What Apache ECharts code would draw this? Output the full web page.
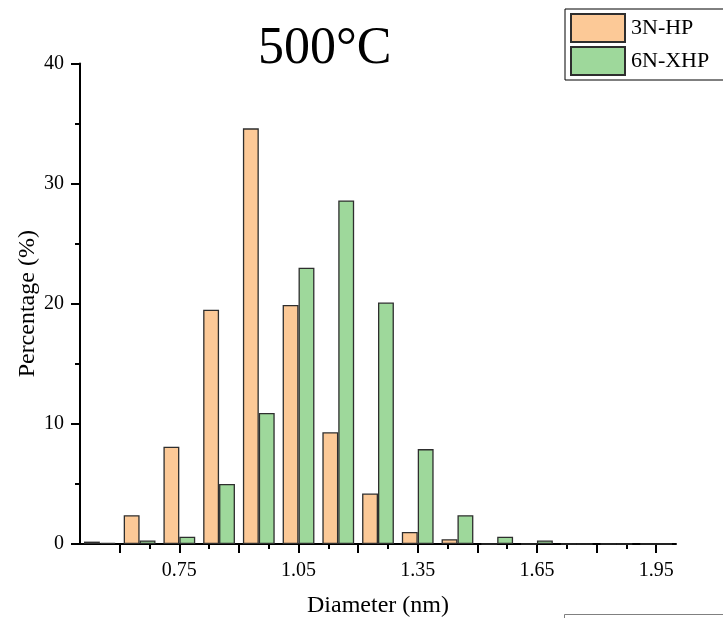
<!DOCTYPE html>
<html>
<head>
<meta charset="utf-8">
<script src="https://cdn.jsdelivr.net/npm/echarts@6/dist/echarts.min.js"></script>
<style>html,body{margin:0;padding:0;background:#fff;}#c{width:723px;height:618px;}</style>
</head>
<body>
<div id="c"></div>
<script>
var binCenters = [0.55, 0.65, 0.75, 0.85, 0.95, 1.05, 1.15, 1.25, 1.35, 1.45, 1.55, 1.65, 1.75, 1.85, 1.95];
var hp3N = [0.2, 2.4, 8.1, 19.5, 34.6, 19.9, 9.3, 4.2, 1.0, 0.4, 0, 0, 0, 0, 0];
var xhp6N = [0.1, 0.3, 0.6, 5.0, 10.9, 23.0, 28.6, 20.1, 7.9, 2.4, 0.6, 0.3, 0, 0, 0];
var majorTicks = [0.6, 0.75, 0.9, 1.05, 1.2, 1.35, 1.5, 1.65, 1.8, 1.95];
var minorTicks = [0.675, 0.825, 0.975, 1.125, 1.275, 1.425, 1.575, 1.725, 1.875];
var xLabels = [0.75, 1.05, 1.35, 1.65, 1.95];
var seriesNames = ['3N-HP', '6N-XHP'];

var FONT = 'Liberation Serif';
var chart = echarts.init(document.getElementById('c'), null, {renderer: 'canvas'});

function pairs(vals) {
  return binCenters.map(function (x, i) { return [x, vals[i]]; });
}

var option = {
  animation: false,
  backgroundColor: '#fff',
  grid: {left: 80, top: 63.5, width: 596, height: 480.5, containLabel: false, outerBoundsMode: 'none'},
  legend: {
    orient: 'vertical',
    left: 565,
    top: 9,
    padding: [4, 20, 4, 5],
    itemGap: 3,
    itemWidth: 54,
    itemHeight: 28,
    borderColor: '#000',
    borderWidth: 1,
    icon: 'rect',
    data: seriesNames,
    textStyle: {fontFamily: FONT, fontSize: 22, color: '#000', padding: [0, 0, 0, 1]}
  },
  xAxis: [{
    type: 'value',
    min: 0.5,
    max: 2.0,
    position: 'bottom',
    name: 'Diameter (nm)',
    nameLocation: 'middle',
    nameGap: 50,
    nameMoveOverlap: false,
    nameTextStyle: {fontFamily: FONT, fontSize: 24, color: '#000'},
    axisLine: {show: true, onZero: false, lineStyle: {color: '#000', width: 2}},
    axisTick: {show: true, inside: false, length: 9, customValues: majorTicks, lineStyle: {color: '#000', width: 2}},
    axisLabel: {show: true, customValues: xLabels, margin: 17, fontFamily: FONT, fontSize: 20, color: '#000',
      formatter: function (v) { return v.toFixed(2); }},
    splitLine: {show: false}
  }, {
    type: 'value',
    min: 0.5,
    max: 2.0,
    position: 'bottom',
    axisLine: {show: false},
    axisTick: {show: true, inside: false, length: 5, customValues: minorTicks, lineStyle: {color: '#000', width: 2}},
    axisLabel: {show: false},
    splitLine: {show: false}
  }],
  yAxis: {
    type: 'value',
    min: 0,
    max: 40,
    interval: 10,
    name: 'Percentage (%)',
    nameLocation: 'middle',
    nameGap: 40,
    nameMoveOverlap: false,
    nameTextStyle: {fontFamily: FONT, fontSize: 24, color: '#000'},
    axisLine: {show: true, lineStyle: {color: '#000', width: 2}},
    axisTick: {show: true, inside: false, length: 9, lineStyle: {color: '#000', width: 2}},
    minorTick: {show: true, splitNumber: 2, length: 5, lineStyle: {color: '#000', width: 2}},
    axisLabel: {margin: 16, fontFamily: FONT, fontSize: 20, color: '#000'},
    splitLine: {show: false}
  },
  series: [{
    name: seriesNames[0],
    type: 'bar',
    xAxisIndex: 0,
    barWidth: '40%',
    barGap: '0%',
    itemStyle: {color: '#FCC997', borderColor: '#2e2e2e', borderWidth: 1.3},
    data: pairs(hp3N)
  }, {
    name: seriesNames[1],
    type: 'bar',
    xAxisIndex: 0,
    barWidth: '40%',
    barGap: '0%',
    itemStyle: {color: '#9ED89B', borderColor: '#2e2e2e', borderWidth: 1.3},
    data: pairs(xhp6N)
  }],
  graphic: [{
    type: 'text',
    left: 258,
    top: 23,
    style: {text: '500°C', fontFamily: FONT, fontSize: 52, fill: '#000'}
  }, {
    type: 'rect',
    shape: {x: 564.5, y: 614.5, width: 170, height: 20},
    style: {fill: 'none', stroke: '#808080', lineWidth: 1}
  }]
};
chart.setOption(option);
</script>
</body>
</html>
